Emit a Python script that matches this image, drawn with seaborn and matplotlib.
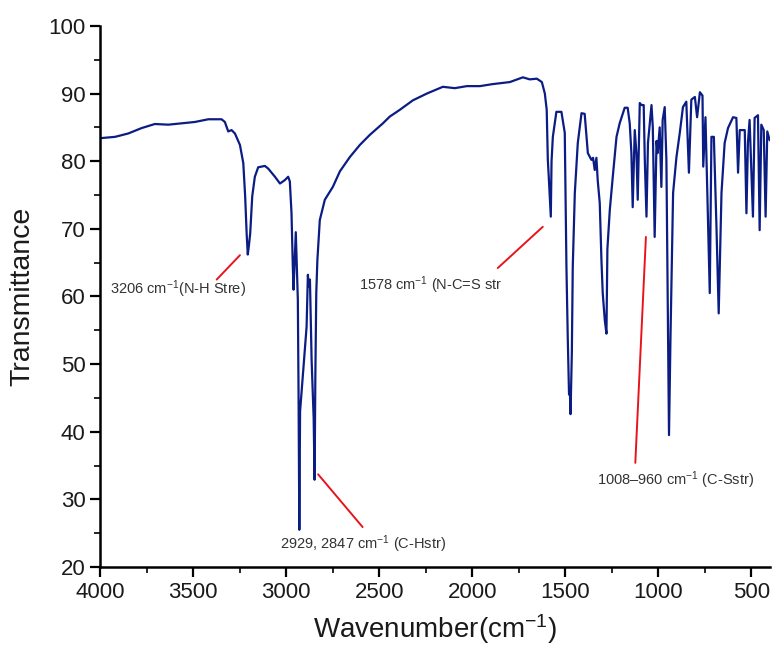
import numpy as np
import pandas as pd
import seaborn as sns
import matplotlib.pyplot as plt
from matplotlib.ticker import MultipleLocator

# FTIR spectrum (wavenumber in cm-1, transmittance)
wavenumber = [4000, 3919, 3848, 3776, 3705, 3633, 3561, 3490, 3418, 3347,
              3329, 3311, 3293, 3275, 3248, 3230, 3220, 3212, 3206, 3200,
              3193, 3182, 3168, 3150, 3114, 3096, 3060, 3033, 3007, 2989,
              2980, 2971, 2964, 2960, 2953, 2948, 2942, 2937, 2933, 2929,
              2925, 2890, 2883, 2878, 2872, 2863, 2852, 2847, 2843, 2838,
              2832, 2819, 2792, 2749, 2711, 2658, 2604, 2550, 2480, 2443,
              2389, 2319, 2244, 2158, 2094, 2029, 1959, 1890, 1798, 1728,
              1691, 1653, 1626, 1610, 1600, 1594, 1589, 1578, 1574, 1567,
              1548, 1521, 1503, 1494, 1487, 1480, 1476, 1472, 1465, 1460,
              1449, 1433, 1413, 1396, 1379, 1360, 1351, 1342, 1333, 1326,
              1315, 1306, 1299, 1288, 1279, 1274, 1261, 1245, 1225, 1208,
              1181, 1165, 1154, 1145, 1138, 1127, 1118, 1111, 1100, 1091,
              1079, 1073, 1064, 1056, 1037, 1030, 1020, 1010, 1004, 993,
              984, 977, 966, 957, 948, 943, 935, 921, 903, 885,
              868, 850, 836, 823, 804, 792, 777, 763, 759, 747,
              733, 724, 715, 702, 688, 676, 661, 644, 626, 599,
              581, 572, 563, 536, 527, 519, 510, 492, 483, 465,
              456, 447, 434, 424, 415, 402]
transmittance = [83.4, 83.6, 84.1, 84.9, 85.5, 85.4, 85.6, 85.8, 86.2, 86.2,
                 85.8, 84.4, 84.6, 84.1, 82.4, 79.7, 74.8, 69.3, 66.2, 67.5,
                 69.3, 74.8, 77.7, 79.1, 79.3, 78.9, 77.7, 76.7, 77.2, 77.7,
                 77.0, 72.3, 64.4, 61.0, 66.0, 69.5, 64.0, 59.5, 45.0, 25.5,
                 43.0, 55.5, 63.2, 61.5, 62.5, 50.6, 42.0, 32.9, 48.0, 60.5,
                 65.4, 71.3, 74.3, 76.2, 78.5, 80.6, 82.4, 83.9, 85.6, 86.6,
                 87.6, 89.0, 90.0, 91.0, 90.8, 91.1, 91.1, 91.4, 91.7, 92.4,
                 92.1, 92.2, 91.7, 90.0, 87.6, 80.2, 77.7, 71.8, 80.0, 83.6,
                 87.3, 87.3, 84.2, 64.4, 54.0, 45.5, 46.5, 42.6, 51.6, 64.4,
                 75.3, 82.7, 87.1, 87.0, 81.2, 80.2, 80.5, 78.7, 80.5, 77.2,
                 73.8, 65.4, 60.5, 56.5, 54.5, 67.0, 72.8, 77.7, 83.6, 85.6,
                 87.9, 87.9, 85.6, 81.2, 73.2, 84.6, 81.2, 74.3, 88.6, 88.3,
                 88.3, 80.2, 71.8, 82.7, 88.3, 85.0, 68.8, 83.0, 81.2, 85.0,
                 76.2, 86.1, 88.0, 80.2, 54.0, 39.5, 54.0, 75.3, 80.6, 84.2,
                 88.0, 88.8, 78.3, 89.1, 89.5, 86.5, 90.2, 89.7, 79.2, 86.5,
                 70.3, 60.5, 83.6, 83.6, 70.3, 57.5, 75.3, 82.7, 84.9, 86.5,
                 86.4, 78.3, 84.6, 84.6, 72.3, 82.7, 86.1, 71.8, 86.4, 86.8,
                 69.8, 85.4, 84.6, 71.8, 84.4, 83.1]

# peak labels and their red pointer lines
label_texts = ["3206 cm$^{-1}$(N-H Stre)",
               "2929, 2847 cm$^{-1}$ (C-Hstr)",
               "1578 cm$^{-1}$ (N-C=S str",
               "1008\u2013960 cm$^{-1}$ (C-Sstr)"]
label_x = [3946, 3033, 2609, 1331]
label_y = [61.1, 23.4, 61.7, 32.8]
pointer_x = [[3248, 3373], [2828, 2589], [1863, 1621], [1067, 1124]]
pointer_y = [[66.1, 62.5], [33.7, 25.9], [64.2, 70.3], [68.8, 35.4]]

df = pd.DataFrame({"Wavenumber": wavenumber, "Transmittance": transmittance})

sns.set_theme(style="ticks")
plt.rcParams['font.family'] = ['Liberation Sans', 'DejaVu Sans']
plt.rcParams['mathtext.fontset'] = 'custom'
plt.rcParams['mathtext.rm'] = 'Liberation Sans'
plt.rcParams['mathtext.it'] = 'Liberation Sans:italic'

fig = plt.figure(figsize=(7.72, 6.55), dpi=100)
ax = fig.add_axes([0.1295, 0.1344, 0.868, 0.826])

sns.lineplot(data=df, x="Wavenumber", y="Transmittance", sort=False,
             estimator=None, color="#0b1d84", linewidth=1.6, ax=ax)

for px, py in zip(pointer_x, pointer_y):
    ax.plot(px, py, color="#e8141c", linewidth=1.4)
for t, x, y in zip(label_texts, label_x, label_y):
    ax.text(x, y, t, ha="left", va="center", fontsize=10.5, color="#333333")

ax.set_xlim(4000, 400)
ax.set_ylim(20, 100)
ax.xaxis.set_major_locator(MultipleLocator(500))
ax.xaxis.set_minor_locator(MultipleLocator(250))
ax.yaxis.set_major_locator(MultipleLocator(10))
ax.yaxis.set_minor_locator(MultipleLocator(5))
ax.tick_params(which="major", direction="out", length=7, width=1.6,
               labelsize=16, colors="black", labelcolor="#1a1a1a")
ax.tick_params(which="minor", direction="out", length=4, width=1.4)
for s in ["left", "bottom"]:
    ax.spines[s].set_linewidth(1.8)
    ax.spines[s].set_color("black")
sns.despine(ax=ax)

ax.set_xlabel("Wavenumber(cm$^{-1}$)", fontsize=20, color="#1a1a1a", labelpad=7)
ax.set_ylabel("Transmittance", fontsize=20.5, color="#1a1a1a", labelpad=9)

fig.savefig("out.png", dpi=100)
